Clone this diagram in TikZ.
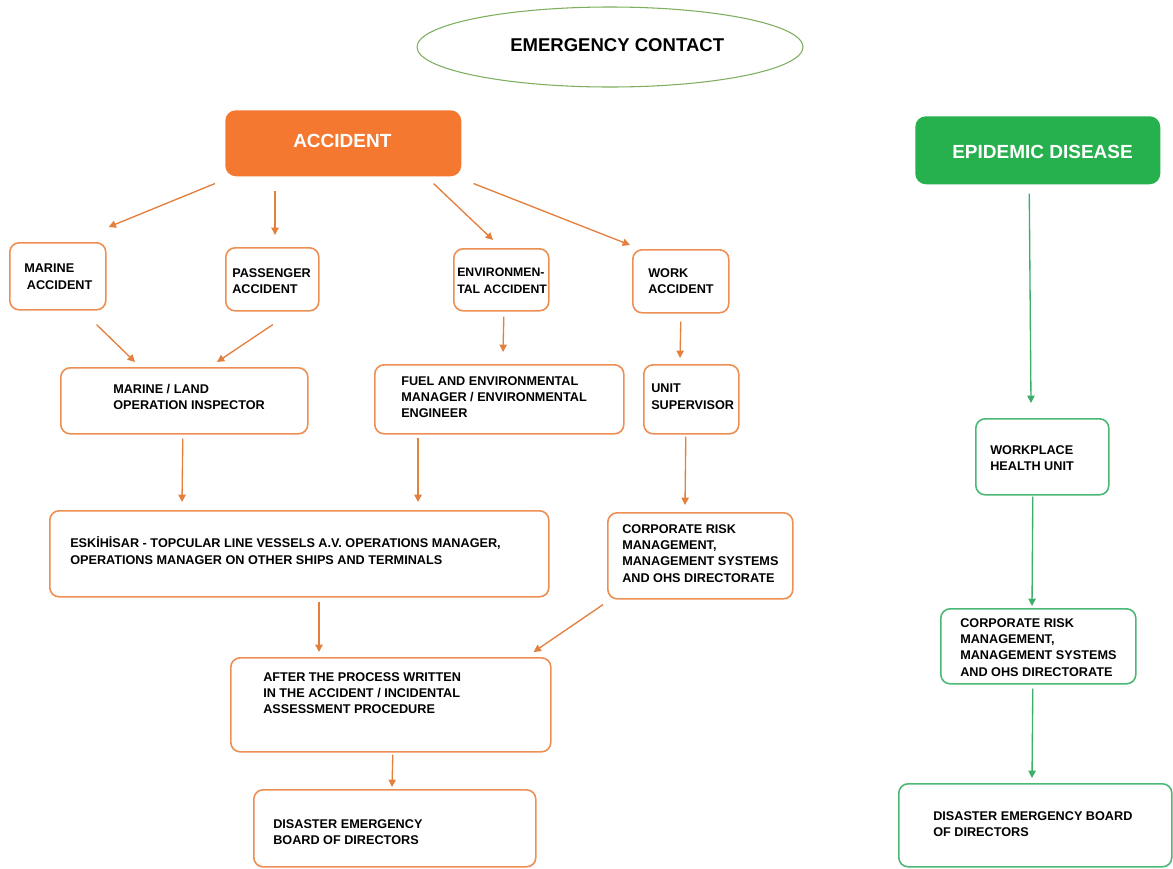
\documentclass[tikz,border=0pt]{standalone}
\usepackage{fontspec}
\setmainfont{Liberation Sans}
\usetikzlibrary{arrows.meta,calc,shapes.geometric}
\definecolor{accfill}{RGB}{245,120,48}
\definecolor{epifill}{RGB}{38,176,78}
\definecolor{oline}{RGB}{237,143,82}
\definecolor{oarrow}{RGB}{228,128,62}
\definecolor{gline}{RGB}{76,184,118}
\definecolor{garrow}{RGB}{60,175,105}
\definecolor{ellline}{RGB}{125,175,95}
\newcommand{\bx}[6]{\node[#6, anchor=north west, minimum width={(#4-#2)*0.75pt}, minimum height={(#5-#3)*0.75pt}] (#1) at (#2,#3) {};}
\tikzset{
  obox/.style={draw=oline, line width=1.2pt, rounded corners=7pt, fill=white, inner sep=0pt},
  gbox/.style={draw=gline, line width=1.2pt, rounded corners=7pt, fill=white, inner sep=0pt},
  accbox/.style={fill=accfill, draw=none, rounded corners=8pt, inner sep=0pt},
  epibox/.style={fill=epifill, draw=none, rounded corners=8pt, inner sep=0pt},
  txt/.style={anchor=north west, inner sep=0pt, align=left, text=black,
    font=\fontsize{9.5pt}{12.3pt}\selectfont\bfseries},
  bigtxt/.style={anchor=north west, inner sep=0pt, text=white,
    font=\fontsize{14.25pt}{17pt}\selectfont\bfseries},
  oarr/.style={draw=oarrow, line width=1pt, -{Triangle[length=5.5pt,width=5.5pt]}},
  garr/.style={draw=garrow, line width=1pt, -{Triangle[length=5.5pt,width=5.5pt]}},
}
\begin{document}
\begin{tikzpicture}[x=0.75pt,y=-0.75pt]
\useasboundingbox[fill=white] (0,0) rectangle (1173,868);

% ellipse
\node[ellipse, draw=ellline, line width=0.8pt, minimum width=386*0.75pt, minimum height=80*0.75pt, inner sep=0pt] (ec) at (610,47) {};
\node[anchor=north west, inner sep=0pt, font=\fontsize{13.9pt}{16pt}\selectfont\bfseries] (ect) at (510,37.8) {EMERGENCY CONTACT};

% header boxes
\bx{acc}{225}{110}{461}{176}{accbox}
\node[bigtxt] (acct) at (293,134.4) {ACCIDENT};
\bx{epi}{915}{116}{1160}{184}{epibox}
\node[bigtxt] (epit) at (952,145.4) {EPIDEMIC DISEASE};

% row 2
\bx{marine}{9}{242}{105}{309}{obox}
\node[txt] (marinet) at (24,264) {MARINE\\\hspace*{2pt}ACCIDENT};
\bx{pass}{225}{247}{318}{310}{obox}
\node[txt] (passt) at (232,268) {PASSENGER\\ACCIDENT};
\bx{env}{453}{248}{548}{310}{obox}
\node[txt, font=\fontsize{9.2pt}{12.3pt}\selectfont\bfseries] (envt) at (457,268) {ENVIRONMEN-\\TAL ACCIDENT};
\bx{work}{632}{249}{728}{312}{obox}
\node[txt] (workt) at (648,268) {WORK\\ACCIDENT};

% row 3
\bx{mloi}{60}{367}{307}{433}{obox}
\node[txt] (mloit) at (113,384) {MARINE / LAND\\OPERATION INSPECTOR};
\bx{fuel}{374}{364}{623}{433}{obox}
\node[txt] (fuelt) at (401,376) {FUEL AND ENVIRONMENTAL\\MANAGER / ENVIRONMENTAL\\ENGINEER};
\bx{unit}{643}{364}{738}{433}{obox}
\node[txt] (unitt) at (651,384) {UNIT\\SUPERVISOR};

% row 4
\bx{esk}{49}{510}{548}{596}{obox}
\node[txt] (eskt) at (70,536.5) {ESKİHİSAR - TOPCULAR LINE VESSELS A.V. OPERATIONS MANAGER,\\OPERATIONS MANAGER ON OTHER SHIPS AND TERMINALS};
\bx{corp}{607}{512}{792}{598}{obox}
\node[txt] (corpt) at (622,524) {CORPORATE RISK\\MANAGEMENT,\\MANAGEMENT SYSTEMS\\AND OHS DIRECTORATE};

% row 5, 6
\bx{after}{230}{657}{550}{751}{obox}
\node[txt] (aftert) at (263,672) {AFTER THE PROCESS WRITTEN\\IN THE ACCIDENT / INCIDENTAL\\ASSESSMENT PROCEDURE};
\bx{dis}{253}{789}{535}{866}{obox}
\node[txt] (dist) at (273,819) {DISASTER EMERGENCY\\BOARD OF DIRECTORS};

% green column
\bx{wp}{975}{418}{1108}{494}{gbox}
\node[txt] (wpt) at (990,445) {WORKPLACE\\HEALTH UNIT};
\bx{gcorp}{940}{608}{1135}{683}{gbox}
\node[txt] (gcorpt) at (960,618) {CORPORATE RISK\\MANAGEMENT,\\MANAGEMENT SYSTEMS\\AND OHS DIRECTORATE};
\bx{gdis}{898}{783}{1171}{866}{gbox}
\node[txt] (gdist) at (933,811) {DISASTER EMERGENCY BOARD\\OF DIRECTORS};

% orange connectors
\draw[oarr] ($(acc.south west)+(-10,7)$) -- ($(marine.north east)+(2,-15)$);
\draw[oarr] ($(acc.south west)+(50,14)$) -- ($(pass.north west)+(50,-12)$);
\draw[oarr] ($(acc.south east)+(-28,7)$) -- ($(env.north west)+(40,-8)$);
\draw[oarr] ($(acc.south east)+(12,7)$) -- ($(work.north west)+(-2,-4)$);
\draw[oarr] ($(marine.south east)+(-10,14)$) -- ($(mloi.north west)+(75,-5)$);
\draw[oarr] ($(pass.south)+(0.5,13)$) -- ($(mloi.north west)+(157,-5)$);
\draw[oarr] ($(env.south)+(2.5,5)$) -- ($(fuel.north west)+(129,-12)$);
\draw[oarr] ($(work.south)+(0,8)$) -- ($(unit.north west)+(37,-6)$);
\draw[oarr] ($(mloi.south)+(-1.5,4)$) -- ($(esk.north west)+(133,-8)$);
\draw[oarr] ($(fuel.south west)+(44,3)$) -- ($(esk.north west)+(369,-8)$);
\draw[oarr] ($(unit.south)+(-5.5,2)$) -- ($(corp.north west)+(78,-7)$);
\draw[oarr] ($(esk.south west)+(270,4)$) -- ($(after.north west)+(89,-5)$);
\draw[oarr] ($(corp.south west)+(-4,5)$) -- ($(after.north east)+(-18,-5)$);
\draw[oarr] ($(after.south)+(2,2)$) -- ($(dis.north west)+(139,-2)$);

% green connectors
\draw[garr] ($(epi.south)+(-8.5,9)$) -- ($(wp.north west)+(56,-15)$);
\draw[garr] ($(wp.south)+(-9.5,1)$) -- ($(gcorp.north west)+(92,-2)$);
\draw[garr] ($(gcorp.south)+(-5.5,4)$) -- ($(gdis.north west)+(134,-5)$);
\end{tikzpicture}
\end{document}
